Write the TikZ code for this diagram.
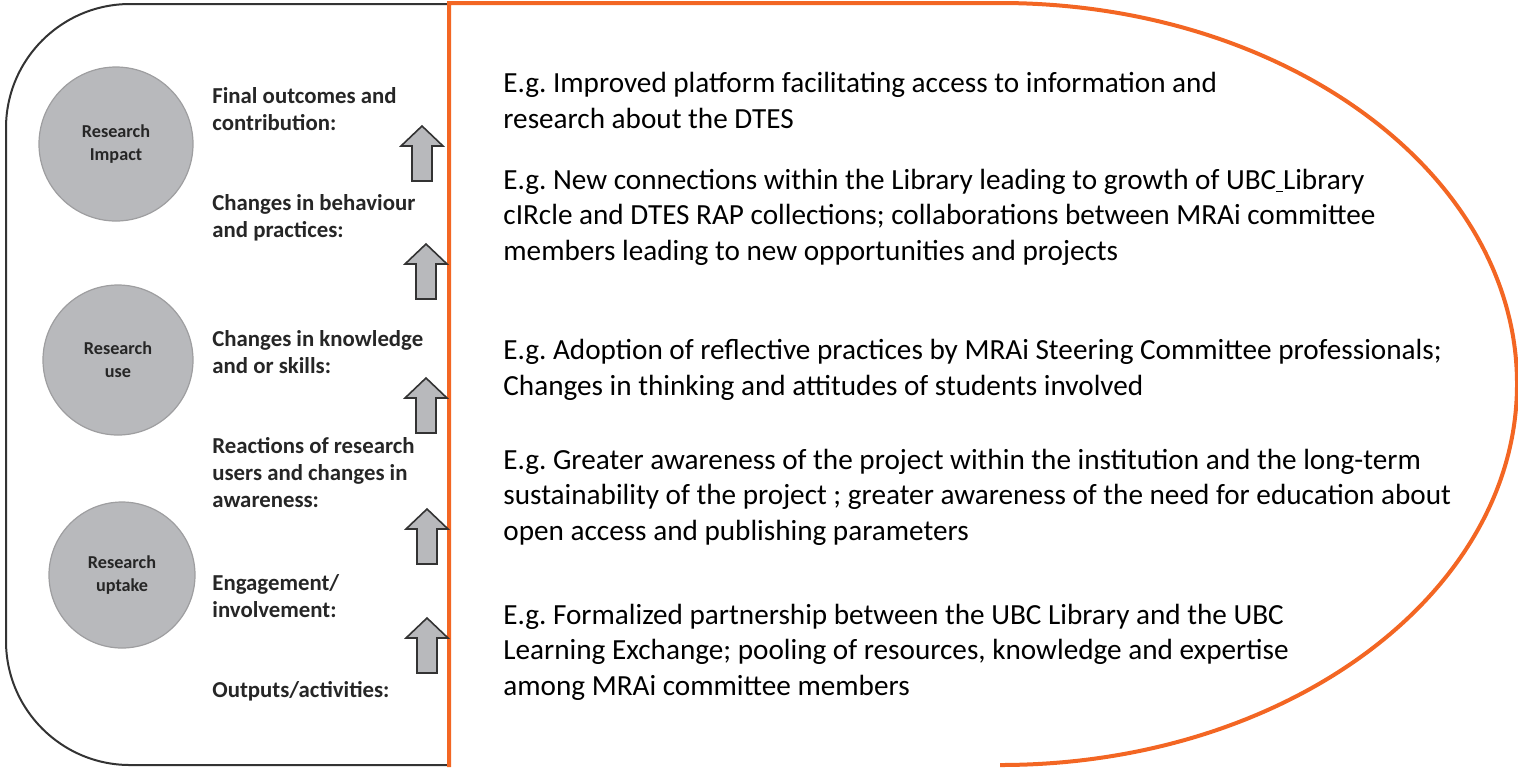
\documentclass[tikz,border=0pt]{standalone}
\usepackage{fontspec}
\setmainfont{Carlito}
\usepackage{tikz}
\definecolor{orangeline}{RGB}{243,102,35}
\definecolor{circfill}{RGB}{184,185,188}
\definecolor{circdraw}{RGB}{158,158,160}
\definecolor{labelgray}{RGB}{38,38,38}
\frenchspacing

\begin{document}
\begin{tikzpicture}[x=0.5pt,y=-0.5pt,
  circ node/.style={circle,draw=circdraw,line width=0.6pt,fill=circfill,inner sep=0pt,
    align=center,text=labelgray,font=\fontsize{9.1}{11.5}\selectfont\bfseries},
  label node/.style={anchor=base west,align=left,inner sep=0pt,text=labelgray,
    font=\fontsize{11.4}{13.5}\selectfont\bfseries},
  eg node/.style={anchor=base west,align=left,inner sep=0pt,
    font=\fontsize{14.6}{17.75}\selectfont},
  uparr/.pic={\draw[line width=0.8pt,draw=black!80,fill=circfill]
    (0,0) -- (21,20) -- (10,20) -- (10,55) -- (-10,55) -- (-10,20) -- (-21,20) -- cycle;}]

  \useasboundingbox (0,0) rectangle (1518,767);

  % outlines
  \draw[line width=1pt,black!80,rounded corners=62pt] (449,4) -- (6,4) -- (6,765) -- (449,765);
  \draw[line width=2pt,orangeline] (449,767) -- (449,3) -- (1000,3)
    arc[start angle=-90,end angle=90,x radius=517,y radius=381];

  % circles
  \node[circ node,minimum size=77pt] (c1) at (116,144) {Research\\Impact};
  \node[circ node,minimum size=75pt] (c2) at (118,360) {Research\\use};
  \node[circ node,minimum size=73pt] (c3) at (122,575) {Research\\uptake};

  % levels (base = last line)
  \node[label node] (l1) at (212,130) {Final outcomes and\\contribution:};
  \node[label node] (l2) at (212,237) {Changes in behaviour\\and practices:};
  \node[label node] (l3) at (212,373) {Changes in knowledge\\and or skills:};
  \node[label node] (l4) at (212,507) {Reactions of research\\users and changes in\\awareness:};
  \node[label node] (l5) at (212,617) {Engagement/\\involvement:};
  \node[label node] (l6) at (212,697) {Outputs/activities:};

  \pic at (422,126) {uparr};
  \pic at (426,244) {uparr};
  \pic at (426,378) {uparr};
  \pic at (427,509) {uparr};
  \pic at (427,618) {uparr};

  % examples (base = last line)
  \node[eg node] (e1) at (503,128) {E.g. Improved platform facilitating access to information and\\research about the DTES};
  \node[eg node] (e2) at (503,260) {E.g. New connections within the Library leading to growth of UBC\underline{\ }Library\\cIRcle and DTES RAP collections; collaborations between MRAi committee\\members leading to new opportunities and projects};
  \node[eg node] (e3) at (503,395) {E.g. Adoption of reflective practices by MRAi Steering Committee professionals;\\Changes in thinking and attitudes of students involved};
  \node[eg node] (e4) at (503,540) {E.g. Greater awareness of the project within the institution and the long-term\\sustainability of the project ; greater awareness of the need for education about\\open access and publishing parameters};
  \node[eg node] (e5) at (503,695) {E.g. Formalized partnership between the UBC Library and the UBC\\Learning Exchange; pooling of resources, knowledge and expertise\\among MRAi committee members};
\end{tikzpicture}
\end{document}
